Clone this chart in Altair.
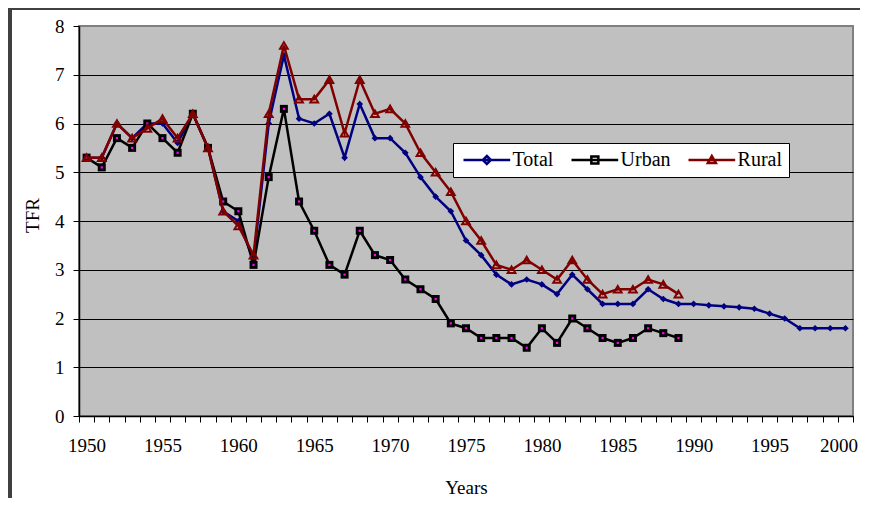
import altair as alt
import pandas as pd

# ---- data ----
years_total = list(range(1950, 2001))
total = [5.3, 5.3, 6.0, 5.7, 6.0, 6.0, 5.6, 6.2, 5.5, 4.2,
         4.0, 3.2, 6.0, 7.4, 6.1, 6.0, 6.2, 5.3, 6.4, 5.7,
         5.7, 5.4, 4.9, 4.5, 4.2, 3.6, 3.3, 2.9, 2.7, 2.8,
         2.7, 2.5, 2.9, 2.6, 2.3, 2.3, 2.3, 2.6, 2.4, 2.3,
         2.3, 2.27, 2.25, 2.23, 2.2, 2.1, 2.0, 1.8, 1.8, 1.8, 1.8]
years_ur = list(range(1950, 1990))
urban = [5.3, 5.1, 5.7, 5.5, 6.0, 5.7, 5.4, 6.2, 5.5, 4.4,
         4.2, 3.1, 4.9, 6.3, 4.4, 3.8, 3.1, 2.9, 3.8, 3.3,
         3.2, 2.8, 2.6, 2.4, 1.9, 1.8, 1.6, 1.6, 1.6, 1.4,
         1.8, 1.5, 2.0, 1.8, 1.6, 1.5, 1.6, 1.8, 1.7, 1.6]
rural = [5.3, 5.3, 6.0, 5.7, 5.9, 6.1, 5.7, 6.2, 5.5, 4.2,
         3.9, 3.3, 6.2, 7.6, 6.5, 6.5, 6.9, 5.8, 6.9, 6.2,
         6.3, 6.0, 5.4, 5.0, 4.6, 4.0, 3.6, 3.1, 3.0, 3.2,
         3.0, 2.8, 3.2, 2.8, 2.5, 2.6, 2.6, 2.8, 2.7, 2.5]

series_names = ["Total", "Urban", "Rural"]
series_colors = ["#000080", "#000000", "#800000"]
y_ticks = list(range(0, 9))
x_label_years = list(range(1950, 2001, 5))
x_tick_edges = [y - 0.5 for y in range(1950, 2002)]

rows = []
for yr, v in zip(years_total, total):
    rows.append({"Year": yr, "Series": "Total", "TFR": v})
for yr, v in zip(years_ur, urban):
    rows.append({"Year": yr, "Series": "Urban", "TFR": v})
for yr, v in zip(years_ur, rural):
    rows.append({"Year": yr, "Series": "Rural", "TFR": v})
df = pd.DataFrame(rows)

FONT = "Liberation Serif, Times New Roman, serif"

x_enc = alt.X(
    "Year:Q",
    scale=alt.Scale(domain=[1949.5, 2000.5], nice=False, zero=False),
    axis=alt.Axis(
        values=x_tick_edges + x_label_years,
        labelExpr="datum.value % 5 == 0 ? '' + datum.value : ''",
        labelOffset={"condition": {"test": "datum.value == 2000", "value": -7}, "value": 0},
        tickOpacity={"condition": {"test": "datum.value % 1 != 0", "value": 1}, "value": 0},
        tickSize=6, tickColor="black", tickWidth=1,
        domainColor="black", domainWidth=1.5,
        grid=False, labelFlush=False, labelOverlap=False, labelBound=False,
        labelFont=FONT, labelFontSize=19, labelColor="black", labelPadding=14,
        title="Years", titleFont=FONT, titleFontSize=19, titleFontWeight="normal",
        titleColor="black", titleX=387, titleY=77, titleAlign="center",
        titleBaseline="alphabetic",
    ),
)
y_enc = alt.Y(
    "TFR:Q",
    scale=alt.Scale(domain=[0, 8], nice=False, zero=True),
    axis=alt.Axis(
        values=y_ticks, format="d",
        tickSize=6, tickColor="black", tickWidth=1,
        domainColor="black", domainWidth=1.5,
        grid=True, gridColor="black", gridWidth=1,
        gridOpacity={"condition": {"test": "datum.value >= 8", "value": 0}, "value": 1},
        labelFont=FONT, labelFontSize=19, labelColor="black", labelPadding=9,
        title="TFR", titleFont=FONT, titleFontSize=19, titleFontWeight="normal",
        titleColor="black", titleX=-47, titleY=189, titleAngle=270,
        titleAlign="center", titleBaseline="middle",
    ),
)

base = alt.Chart(df)
layers = []
for name, col in zip(series_names, series_colors):
    sub = base.transform_filter(alt.datum.Series == name)
    layers.append(sub.mark_line(color=col, strokeWidth=2.5).encode(x=x_enc, y=y_enc))
    if name == "Total":
        layers.append(sub.mark_point(shape="diamond", filled=True, color=col,
                                     size=45, opacity=1).encode(x=x_enc, y=y_enc))
    elif name == "Urban":
        layers.append(sub.mark_point(shape="square", filled=True, color="black",
                                     size=64, opacity=1).encode(x=x_enc, y=y_enc))
        layers.append(sub.mark_point(shape="square", filled=True, color="#FF00FF",
                                     size=5, opacity=1).encode(x=x_enc, y=y_enc))
    else:
        layers.append(sub.mark_point(shape="triangle-up", filled=False, color=col,
                                     strokeWidth=2, size=60, opacity=1).encode(x=x_enc, y=y_enc))

# legend-only layer (no rows drawn; legend built from the explicit scale domain)
legend_paths = [
    "M-4.67,0H4.67M0,-0.8L0.8,0L0,0.8L-0.8,0Z",
    "M-4.67,0H4.67M-0.7,-0.7H0.7V0.7H-0.7Z",
    "M-4.67,0H4.67M0,-0.8L0.8,0.6H-0.8Z",
]
leg = alt.Legend(
    orient="none", legendX=374, legendY=117, direction="horizontal",
    title=None, fillColor="white", strokeColor="black", padding=7,
    symbolSize=100, symbolStrokeWidth=2.5, symbolOffset=16.85,
    labelOffset=15.7, columnPadding=12, gridAlign="each",
    labelFont=FONT, labelFontSize=20, labelColor="black", labelLimit=200,
)
legend_layer = base.transform_filter("false").mark_point(filled=False, opacity=1).encode(
    x=x_enc, y=y_enc,
    color=alt.Color("Series:N", scale=alt.Scale(domain=series_names, range=series_colors), legend=leg),
    shape=alt.Shape("Series:N", scale=alt.Scale(domain=series_names, range=legend_paths), legend=leg),
)

# chart-area frame (decoration)
frame_left = base.mark_rule(color="#404040", strokeWidth=3).encode(
    x=alt.value(-69), y=alt.value(-18), y2=alt.value(520))
frame_top = base.mark_rule(color="#404040", strokeWidth=2).encode(
    x=alt.value(-69), x2=alt.value(820), y=alt.value(-17))

chart = alt.layer(*layers, legend_layer, frame_left, frame_top).properties(
    width=774, height=390,
    autosize=alt.AutoSizeParams(type="none"),
    padding={"left": 71, "top": 18, "right": 7, "bottom": 82},
    background="white",
).configure_view(
    fill="#C0C0C0", stroke="#808080", strokeWidth=2,
)

chart.save("out.html", embed_options={"renderer": "svg", "actions": False})
